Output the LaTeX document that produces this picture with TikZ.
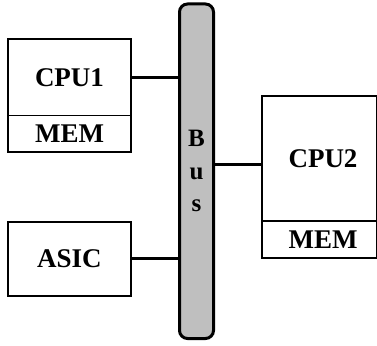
\documentclass[tikz,border=0pt]{standalone}
\usepackage{fontspec}
\setmainfont{Liberation Serif}
\begin{document}
\begin{tikzpicture}[x=1pt,y=1pt,
  box/.style={draw, line width=1.7pt, fill=white, inner sep=0pt,
    font=\fontsize{27}{32}\selectfont\bfseries},
  busbar/.style={draw, line width=3pt, fill=gray!50, rounded corners=8pt,
    inner sep=0pt, align=center, font=\fontsize{25}{32.5}\selectfont\bfseries},
  link/.style={line width=3pt}]
\useasboundingbox (0,0) rectangle (377,345);

% the shared bus
\node[busbar, minimum width=34pt, minimum height=334.5pt] (bus) at (196.5,173.75) {B\\u\\s};

% left column: CPU1 with its memory, and the ASIC
\node[box, minimum width=123pt, minimum height=76.5pt] (cpu1) at (69.5,267.75) {CPU1};
\node[box, minimum width=123pt, minimum height=36.5pt] (mem1) at (69.5,211.25) {MEM};
\node[box, minimum width=123pt, minimum height=74pt] (asic) at (69.5,86) {ASIC};

% right column: CPU2 with its memory
\node[box, minimum width=115pt, minimum height=125pt] (cpu2) at (319.5,186.5) {\hspace*{7pt}CPU2};
\node[box, minimum width=115pt, minimum height=37pt] (mem2) at (319.5,105.5) {\hspace*{7pt}MEM};

% connections to the bus
\draw[link] (cpu1.east) -- (bus.west |- cpu1.east);
\draw[link] (asic.east) -- (bus.west |- asic.east);
\coordinate (c2) at ([yshift=-6.5pt]cpu2.west);
\draw[link] (c2) -- (bus.east |- c2);
\end{tikzpicture}
\end{document}
